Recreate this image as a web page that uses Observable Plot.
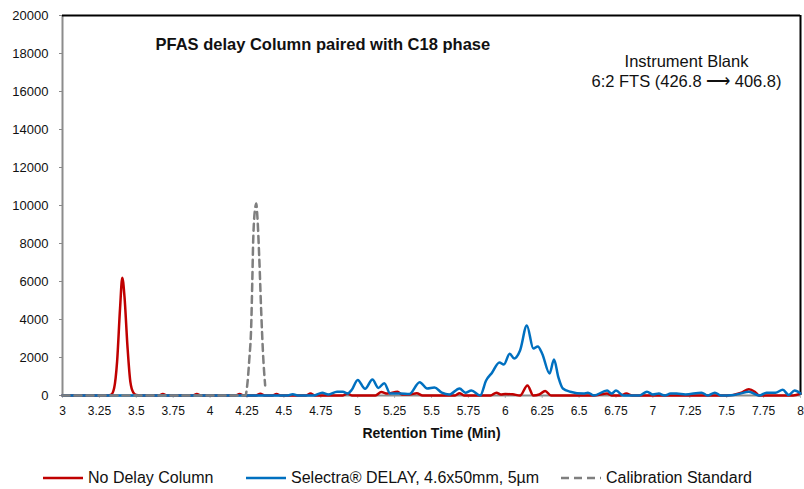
<!DOCTYPE html>
<html>
<head>
<meta charset="utf-8">
<script src="https://cdn.jsdelivr.net/npm/d3@7"></script>
<script src="https://cdn.jsdelivr.net/npm/@observablehq/plot@0.6"></script>
<style>
  html, body { margin: 0; padding: 0; background: #fff; }
  #chart svg { display: block; }
  .legend { position: relative; width: 804px; height: 34px; font-family: "Liberation Sans", Arial, sans-serif; font-size: 16px; color: #111; }
  .item { position: absolute; top: 14px; display: flex; align-items: center; white-space: nowrap; }
  .item svg { margin-right: 5px; }
</style>
</head>
<body>
<div id="chart"></div>
<div class="legend" id="legend"></div>
<script>
// ---- data ----
const seriesNames = ["No Delay Column", "Selectra\u00AE DELAY, 4.6x50mm, 5\u00B5m", "Calibration Standard"];
const seriesColors = ["#C00000", "#0070C0", "#7F7F7F"];

const noDelayTime = [3.00,3.30,3.33,3.35,3.37,3.39,3.405,3.42,3.44,3.46,3.48,3.50,3.55,3.65,3.68,3.71,3.88,3.91,3.94,4.17,4.20,4.23,4.31,4.34,4.37,4.42,4.45,4.48,4.65,4.68,4.71,4.90,4.93,4.96,5.12,5.16,5.20,5.27,5.30,5.35,5.40,5.44,5.66,5.69,5.72,5.90,5.94,5.97,6.00,6.05,6.10,6.15,6.19,6.23,6.27,6.31,6.60,6.69,6.72,6.78,6.82,6.86,7.50,7.60,7.65,7.69,7.72,7.95,8.00];
const noDelayValue = [0,0,50,400,1800,4600,6200,5200,2600,700,150,30,0,0,80,0,0,80,0,0,80,0,0,90,0,0,80,0,0,100,0,0,100,0,0,180,100,200,50,50,120,0,0,120,0,0,150,50,80,60,0,530,0,50,240,0,0,100,0,0,100,0,0,150,330,200,0,0,100];

const selectraTime = [3.00,4.52,4.56,4.60,4.70,4.76,4.80,4.86,4.90,4.93,4.96,5.00,5.05,5.10,5.14,5.18,5.22,5.29,5.35,5.42,5.47,5.52,5.57,5.62,5.69,5.73,5.77,5.83,5.87,5.91,5.96,5.99,6.03,6.06,6.10,6.146,6.19,6.22,6.25,6.30,6.33,6.36,6.39,6.44,6.53,6.56,6.60,6.69,6.72,6.75,6.80,6.91,6.96,7.00,7.04,7.08,7.12,7.16,7.22,7.33,7.37,7.42,7.46,7.55,7.59,7.65,7.72,7.77,7.83,7.88,7.92,7.96,8.00];
const selectraValue = [0,0,60,0,0,150,50,200,200,100,300,820,350,840,400,650,100,100,80,700,370,420,150,50,370,150,260,0,790,1200,1740,1630,2200,1950,2370,3680,2470,2580,2200,1160,1890,950,370,200,100,150,0,260,100,260,0,0,200,50,100,0,100,100,50,150,0,150,0,30,100,200,0,150,150,300,30,260,100];

const calibTime = [3.00,4.24,4.249,4.265,4.279,4.286,4.292,4.306,4.313,4.319,4.333,4.346,4.36,4.373];
const calibValue = [0,0,370,1840,3790,6050,8160,9900,10100,9580,7260,4470,2000,530];

const xTicks = [3,3.25,3.5,3.75,4,4.25,4.5,4.75,5,5.25,5.5,5.75,6,6.25,6.5,6.75,7,7.25,7.5,7.75,8];
const yTicks = [0,2000,4000,6000,8000,10000,12000,14000,16000,18000,20000];
const titleText = "PFAS delay Column paired with C18 phase";
const annotLines = ["Instrument Blank", "6:2 FTS (426.8 \u27F6 406.8)"];
const xLabel = "Retention Time (Min)";

// ---- build tables ----
const toRows = (ts, vs, s) => ts.map((t, i) => ({t, v: vs[i], s}));
const red = toRows(noDelayTime, noDelayValue, seriesNames[0]);
const blue = toRows(selectraTime, selectraValue, seriesNames[1]);
const gray = toRows(calibTime, calibValue, seriesNames[2]);

const chart = Plot.plot({
  width: 804,
  height: 455,
  marginLeft: 62,
  marginRight: 4,
  marginTop: 15,
  marginBottom: 60,
  style: {fontFamily: '"Liberation Sans", Arial, sans-serif', color: "#111", background: "#fff"},
  x: {domain: [3, 8]},
  y: {domain: [0, 20000]},
  marks: [
    Plot.axisY({ticks: yTicks, tickSize: 3, tickPadding: 11, fontSize: 13, label: null, stroke: "#888", tickFormat: d3.format("d")}),
    Plot.axisX({ticks: xTicks, tickSize: 3, tickPadding: 8, fontSize: 12, label: null, stroke: "#bbb", tickFormat: d => String(d)}),
    Plot.ruleY([0], {stroke: "#8c8c8c", strokeWidth: 2}),
    Plot.ruleX([3], {stroke: "#8c8c8c", strokeWidth: 2}),
    Plot.ruleY([20000], {stroke: "#000", strokeWidth: 2}),
    Plot.ruleX([8], {stroke: "#000", strokeWidth: 2}),
    Plot.line(red, {x: "t", y: "v", stroke: seriesColors[0], strokeWidth: 2.5, curve: "monotone-x"}),
    Plot.line(blue, {x: "t", y: "v", stroke: seriesColors[1], strokeWidth: 2.5, curve: "monotone-x"}),
    Plot.line(gray, {x: "t", y: "v", stroke: seriesColors[2], strokeWidth: 2.5, strokeDasharray: "7,5", curve: "monotone-x"}),
    Plot.text([titleText], {frameAnchor: "top-left", dx: 93, dy: 23, textAnchor: "start", fontWeight: "bold", fontSize: 16.5, fill: "#111"}),
    Plot.text([annotLines.join("\n")], {frameAnchor: "top-left", dx: 624, dy: 37, textAnchor: "middle", fontSize: 16.5, lineHeight: 1.22, fill: "#111"}),
    Plot.text([xLabel], {frameAnchor: "bottom", dy: 42, fontWeight: "bold", fontSize: 14, fill: "#111"})
  ]
});
document.getElementById("chart").appendChild(chart);

// ---- legend ----
const legend = document.getElementById("legend");
const lefts = [43, 246, 561];
seriesNames.forEach((name, i) => {
  const item = document.createElement("div");
  item.className = "item";
  item.style.left = lefts[i] + "px";
  const dash = i === 2 ? 'stroke-dasharray="8,5"' : "";
  item.innerHTML = `<svg width="40" height="6"><line x1="0" y1="3" x2="40" y2="3" stroke="${seriesColors[i]}" stroke-width="2.5" ${dash}/></svg><span>${name}</span>`;
  legend.appendChild(item);
});
</script>
</body>
</html>
